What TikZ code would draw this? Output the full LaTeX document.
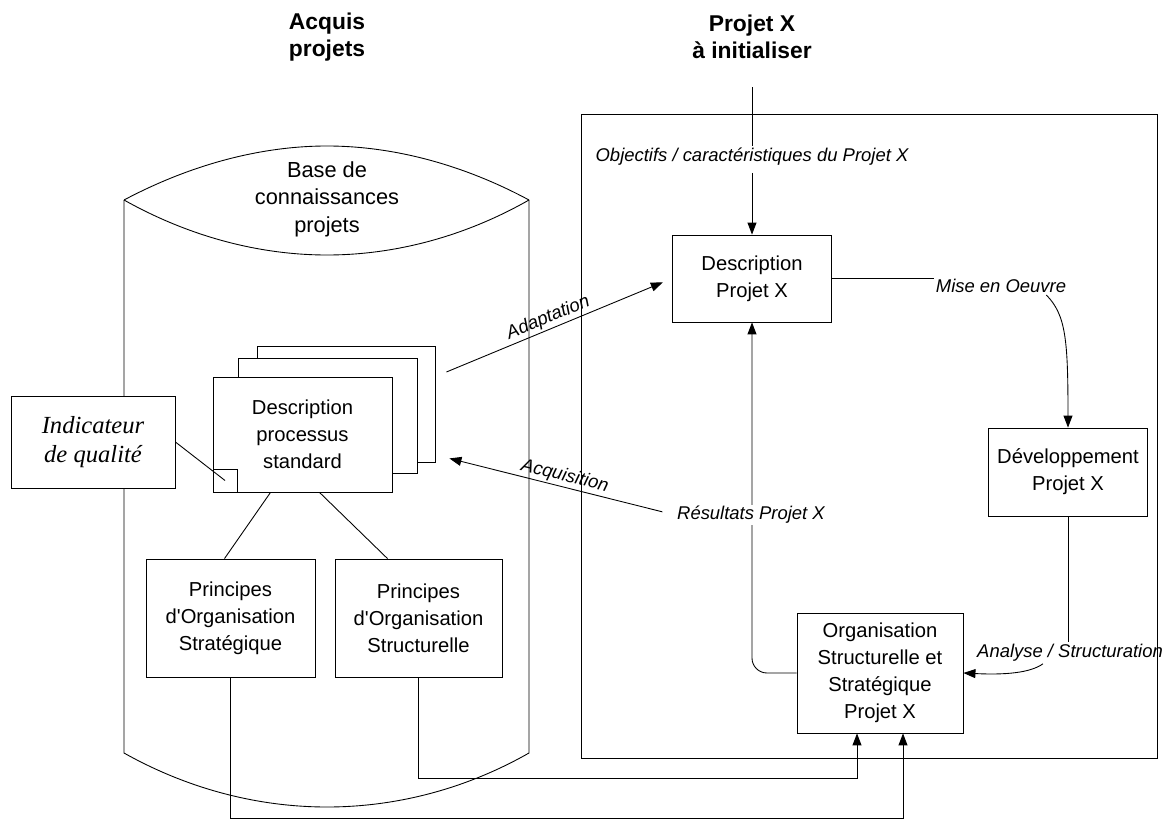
\documentclass[tikz,border=0pt]{standalone}
\usepackage{fontspec}
\usepackage{xcolor}
\usepackage{tikz}
\usetikzlibrary{arrows.meta,calc}
\newfontfamily\arialfont{Liberation Sans}
\newfontfamily\timesfont{Liberation Serif}
\definecolor{color_10415}{rgb}{0,0,0}
\definecolor{color_28300}{rgb}{1,1,1}

\begin{document}
\begin{tikzpicture}[x=0.02cm,y=0.02cm,line width=0.5pt,color_10415,
	every node/.style={font=\arialfont},
	boite/.style={draw,fill=color_28300,align=center,inner sep=2pt,font=\arialfont\fontsize{11.5}{15.3}\selectfont},
	etiq/.style={inner sep=1pt,font=\arialfont\itshape\fontsize{10.5}{12}\selectfont},
	titre/.style={align=center,font=\arialfont\bfseries\fontsize{13}{15}\selectfont},
	fleche/.style={-{Triangle[length=2.4mm,width=1.8mm]}}]
			\useasboundingbox (0,0) rectangle (1167,-821);
			
			% Titres
			\node[titre] (acquis) at (327,-37) {Acquis\\projets};
			\node[titre] (projetx) at (752,-37) {Projet X\\à initialiser};
			
			% Cylindre de la base
			\draw (124,-200) -- (124,-753) .. controls (190,-790) and (260,-807) .. (327,-807)
				.. controls (394,-807) and (464,-790) .. (529,-753) -- (529,-200);
			\draw (124,-200) .. controls (190,-165) and (260,-146) .. (327,-146)
				.. controls (394,-146) and (464,-165) .. (529,-200);
			\draw (124,-200) .. controls (190,-237) and (260,-255) .. (327,-255)
				.. controls (394,-255) and (464,-237) .. (529,-200);
			\node[align=center,font=\arialfont\fontsize{12.4}{15.6}\selectfont] (base) at (327,-199) {Base de\\connaissances\\projets};
			
			% Cadre du projet X
			\draw (581,-114) rectangle (1157,-758);
			
			% Pile de documents
			\node[boite,minimum width=3.56cm,minimum height=2.32cm] (fond) at (346,-404) {};
			\node[boite,minimum width=3.58cm,minimum height=2.3cm] (milieu) at (327.5,-415.5) {};
			\node[boite,minimum width=3.58cm,minimum height=2.3cm] (standard) at (302.5,-434.5) {Description\\processus\\standard};
			\node[draw,inner sep=0pt,minimum width=0.48cm,minimum height=0.46cm,anchor=south west] (coin) at (standard.south west) {};
			
			% Indicateur
			\node[boite,minimum width=3.28cm,minimum height=1.84cm,font=\timesfont\itshape\fontsize{14}{16.4}\selectfont] (indic) at (93,-442) {Indicateur\\de qualité};
			\draw (indic.east) -- (coin.center);
			
			% Principes
			\node[boite,minimum width=3.38cm,minimum height=2.36cm] (strat) at (230.5,-618) {Principes\\d'Organisation\\Stratégique};
			\node[boite,minimum width=3.34cm,minimum height=2.36cm] (struct) at (418.5,-618) {Principes\\d'Organisation\\Structurelle};
			\draw ($(standard.south)+(-32,0)$) -- ($(strat.north)+(-6,0)$);
			\draw ($(standard.south)+(17,0)$) -- ($(struct.north)+(-31,0)$);
			
			% Boites du projet X
			\node[boite,minimum width=3.18cm,minimum height=1.74cm] (descx) at (752,-278.5) {Description\\Projet X};
			\node[boite,minimum width=3.18cm,minimum height=1.76cm] (dev) at (1068,-472) {Développement\\Projet X};
			\node[boite,minimum width=3.32cm,minimum height=2.4cm] (org) at (880,-673) {Organisation\\Structurelle et\\Stratégique\\Projet X};
			
			% Entree du projet
			\node[etiq,fill=color_28300] (objectifs) at (752,-157) {Objectifs / caractéristiques du Projet X};
			\draw[shorten <=0.45cm] (projetx.south) -- (objectifs.north);
			\draw[fleche,shorten <=0.1cm] (objectifs.south) -- (descx.north);
			
			% Mise en oeuvre
			\node[etiq] (mise) at (1001,-286) {Mise en Oeuvre};
			\draw (descx.east) -- (descx.east -| mise.west);
			\draw[fleche] ($(mise.south east)+(-22,0)$) .. controls (1066,-315) and (1068,-340) .. (dev.north);
			
			% Analyse
			\node[etiq] (analyse) at (1070,-653) {Analyse / Structuration};
			\draw (dev.south) -- (dev.south |- analyse.north);
			\draw[fleche] ($(analyse.south)+(-27,0)$) .. controls (1030,-673) and (1005,-675) .. (org.east);
			
			% Retour vers la description
			\draw[fleche,rounded corners=0.3cm] (org.west) -| (descx.south);
			\node[etiq,fill=color_28300] (resultats) at (751,-515) {Résultats Projet X};
			
			% Adaptation / acquisition
			\coordinate (adaptdebut) at ($(fond.east)+(11,32)$);
			\coordinate (acqfin) at ($(fond.south east)+(14,4)$);
			\draw[fleche,shorten >=0.2cm] (adaptdebut) -- node[etiq,sloped,above,pos=0.47] {Adaptation} (descx.west);
			\draw[fleche,shorten <=0.26cm] (resultats.west) -- node[etiq,sloped,above,pos=0.5] {Acquisition} (acqfin);
			
			% Liens vers l'organisation
			\draw[fleche] (struct.south) -- ++(0,-101) -| ($(org.south)+(-23,0)$);
			\draw[fleche] (strat.south) -- ++(0,-141) -| ($(org.south)+(23,0)$);
		\end{tikzpicture}
\end{document}
